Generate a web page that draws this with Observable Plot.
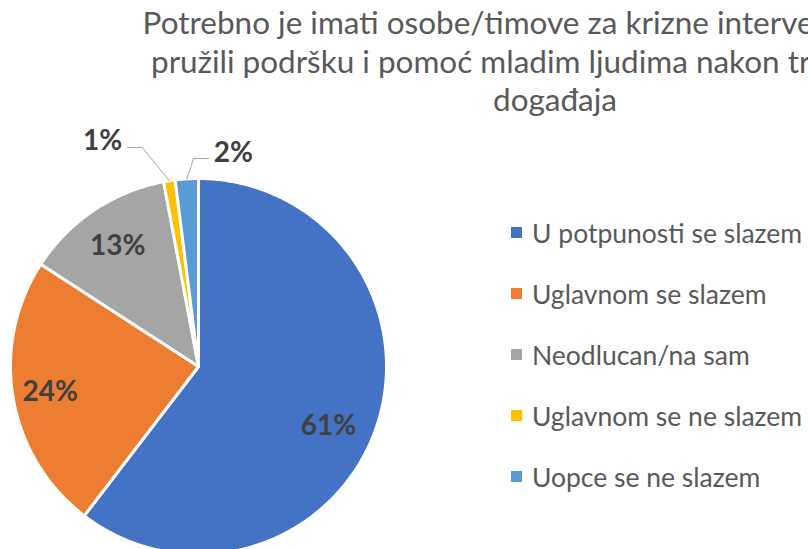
<!DOCTYPE html>
<html><head><meta charset="utf-8">
<script src="https://cdn.jsdelivr.net/npm/d3@7"></script>
<script src="https://cdn.jsdelivr.net/npm/@observablehq/plot@0.6"></script>
<style>
html,body{margin:0;padding:0;overflow:hidden;background:#fff;width:808px;height:549px;}
#wrap{position:relative;width:808px;height:549px;overflow:hidden;}
#chart{position:absolute;left:0;top:0;}
#title{position:absolute;left:-45px;width:1200px;top:3px;text-align:center;font-family:Lato,sans-serif;font-size:31.5px;line-height:38.5px;color:#595959;white-space:nowrap;}
#legend{position:absolute;left:511px;top:202px;width:320px;}
#legend [class$="-swatch"]{height:61px;padding:0;}
#legend svg{margin-right:10px;}
#legend [class$="-swatch-label"]{overflow:visible;}
</style></head><body>
<div id="wrap"><div id="chart"></div><div id="title"></div><div id="legend"></div></div>
<script>
// ---- data ----
const categories = ["U potpunosti se slazem", "Uglavnom se slazem", "Neodlucan/na sam", "Uglavnom se ne slazem", "Uopce se ne slazem"];
const values = [61, 24, 13, 1, 2];
const labels = ["61%", "24%", "13%", "1%", "2%"];
const colors = ["#4472C4", "#ED7D31", "#A5A5A5", "#FFC000", "#5B9BD5"];
const titleLines = [
  "Potrebno je imati osobe/timove za krizne intervencije koji bi",
  "pružili podršku i pomoć mladim ljudima nakon traumatskog",
  "događaja"
];

// ---- layout (pixels) ----
const W = 808, H = 549;
const cx = 198, cy = 366, R = 188;

// ---- pie geometry from values ----
const arcs = d3.pie().sort(null).value(d => d)(values);
const slicePts = [];
arcs.forEach((a, i) => {
  const n = Math.max(2, Math.ceil((a.endAngle - a.startAngle) / 0.01));
  slicePts.push({cat: categories[i], x: 0, y: 0});
  for (let k = 0; k <= n; k++) {
    const t = a.startAngle + (a.endAngle - a.startAngle) * k / n;
    slicePts.push({cat: categories[i], x: Math.sin(t), y: Math.cos(t)});
  }
});

// inside labels
const inside = {0: {r: 0.76, shift: 0.10}, 1: {r: 0.80, shift: 0}, 2: {r: 0.77, shift: 0}};
// outside labels with leader lines (offset in radius units)
const outside = {3: {dx: -0.144, dy: 0.177, side: -1}, 4: {dx: 0.036, dy: 0.108, side: 1}};
const hLen = 0.08, gap = 0.027;

const labelData = [];
const leaderPts = [];
arcs.forEach((a, i) => {
  const mid = (a.startAngle + a.endAngle) / 2;
  if (inside[i]) {
    const m = mid + inside[i].shift;
    labelData.push({text: labels[i], x: Math.sin(m) * inside[i].r, y: Math.cos(m) * inside[i].r, anchor: "middle"});
  } else if (outside[i]) {
    const o = outside[i];
    const ex = Math.sin(mid), ey = Math.cos(mid);
    const bx = ex + o.dx, by = ey + o.dy;
    const hx = bx + o.side * hLen;
    leaderPts.push({id: i, x: ex, y: ey}, {id: i, x: bx, y: by}, {id: i, x: hx, y: by});
    labelData.push({text: labels[i], x: hx + o.side * gap, y: by + 0.032, anchor: o.side < 0 ? "end" : "start"});
  }
});

const yMin = -(H - cy) / R;
const lblStyle = {x: "x", y: "y", text: "text", fontSize: 28, fontWeight: "bold", fill: "#404040"};

const plot = Plot.plot({
  width: W, height: H,
  marginLeft: cx - R, marginRight: W - (cx + R),
  marginTop: cy - R, marginBottom: 0,
  x: {domain: [-1, 1], axis: null},
  y: {domain: [yMin, 1], axis: null},
  color: {domain: categories, range: colors},
  style: {fontFamily: "Lato, sans-serif", background: "transparent"},
  marks: [
    Plot.line(slicePts, {x: "x", y: "y", z: "cat", fill: "cat", stroke: "white", strokeWidth: 3, strokeLinejoin: "round", curve: "linear-closed"}),
    Plot.line(leaderPts, {x: "x", y: "y", z: "id", stroke: "#a6a6a6", strokeWidth: 1}),
    Plot.text(labelData.filter(d => d.anchor === "middle"), {...lblStyle, textAnchor: "middle"}),
    Plot.text(labelData.filter(d => d.anchor === "end"), {...lblStyle, textAnchor: "end"}),
    Plot.text(labelData.filter(d => d.anchor === "start"), {...lblStyle, textAnchor: "start"})
  ]
});
document.getElementById("chart").appendChild(plot);

const t = document.getElementById("title");
titleLines.forEach(l => { const d = document.createElement("div"); d.textContent = l; t.appendChild(d); });

const leg = plot.legend("color", {legend: "swatches", columns: 1, swatchSize: 11,
  style: {fontFamily: "Lato, sans-serif", fontSize: "26.5px", color: "#595959", margin: 0}});
document.getElementById("legend").appendChild(leg);
</script>
</body></html>
